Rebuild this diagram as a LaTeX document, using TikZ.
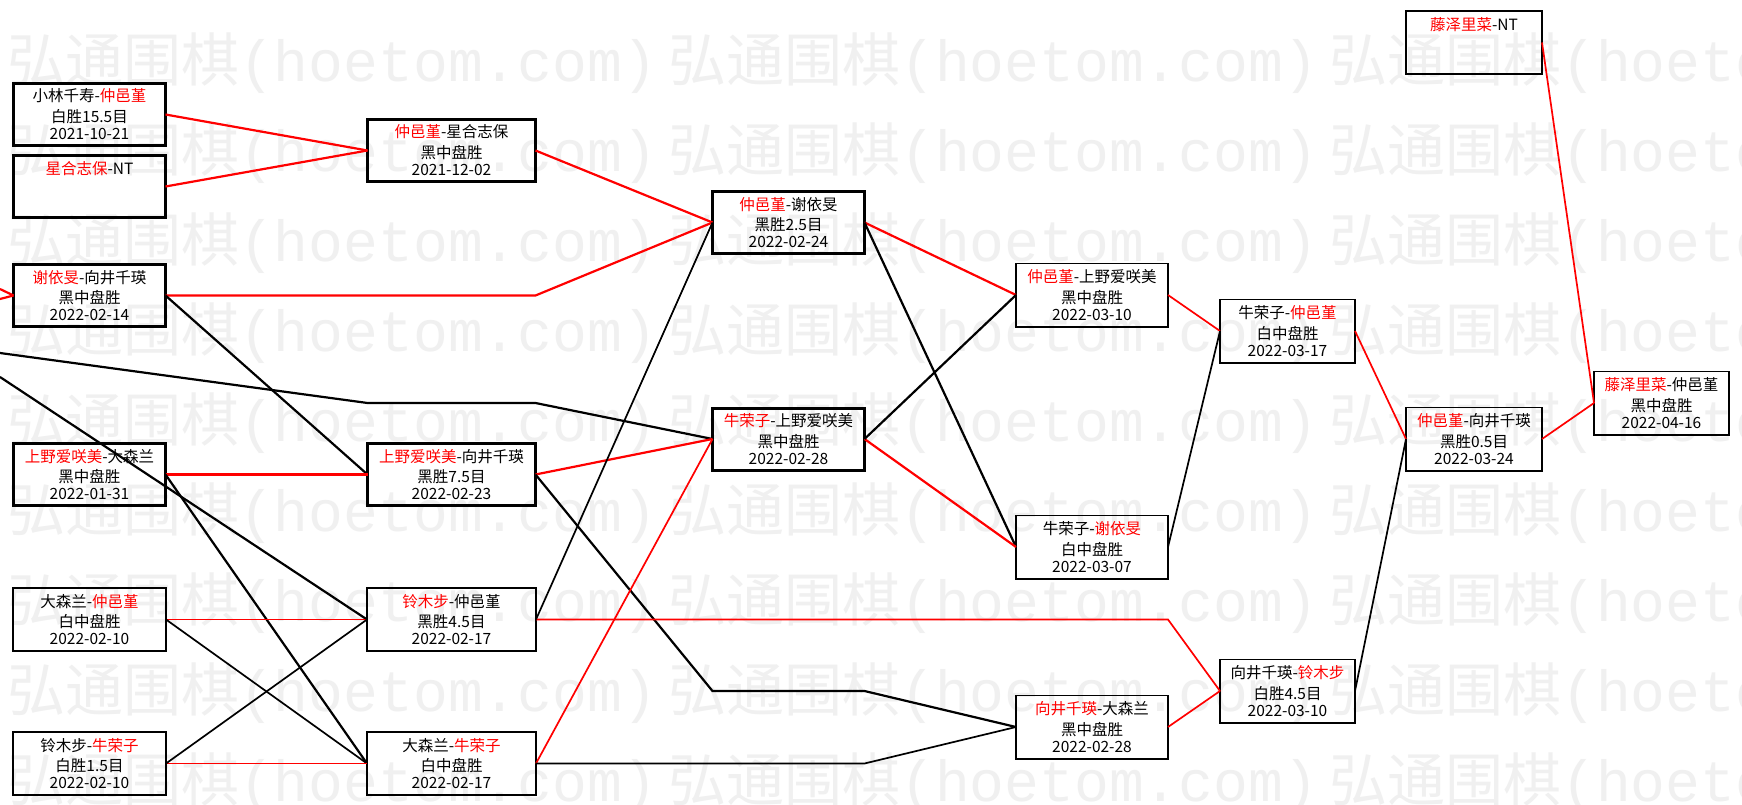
\documentclass[tikz,border=0pt]{standalone}
\usepackage{fontspec}
\setmainfont{Noto Sans CJK SC}
\newfontfamily\wmlatin{Liberation Mono}
\newcommand{\wn}[1]{\textcolor{red}{#1}}
\begin{document}
\begin{tikzpicture}[x=1pt,y=-1pt,
  game/.style={draw,inner sep=0pt,outer sep=0pt,align=center,
    font=\fontsize{15.5}{17}\selectfont},
  hot/.style={game,line width=3pt,text height=56pt,text depth=6pt},
  cool/.style={game,line width=1.8pt,text height=57pt,text depth=6.2pt},
  redfat/.style={red,line width=2.2pt},
  blkfat/.style={black,line width=2.2pt},
  redlean/.style={red,line width=1.7pt},
  blklean/.style={black,line width=1.7pt},
  wmark/.style={anchor=west,inner sep=0pt,text=black!6,
    font=\fontsize{58}{58}\selectfont}]
\useasboundingbox (0,0) rectangle (1742,805);
\clip (0,0) rectangle (1742,805);
\fill[white] (0,0) rectangle (1742,805);
% watermark
\foreach \r in {0,...,8}{
  \foreach \c in {0,1,2}{
    \node[wmark] (wm\r\c) at ({7+661*\c},{63+90*\r}) {弘通围棋{\wmlatin(hoetom.com)}};
  }
}

% column 1
\node[hot,minimum width=152pt] (b1) at (89.5,114.5) {小林千寿-\wn{仲邑堇}\\[3.5pt]白胜15.5目\\2021-10-21};
\node[hot,minimum width=152pt] (b2) at (89.5,186.5) {\wn{星合志保}-NT\\[3.5pt]\mbox{}\\\mbox{}};
\node[hot,minimum width=152pt] (b3) at (89.5,295.5) {\wn{谢依旻}-向井千瑛\\[3.5pt]黑中盘胜\\2022-02-14};
\node[hot,minimum width=152pt] (b4) at (89.5,474.5) {\wn{上野爱咲美}-大森兰\\[3.5pt]黑中盘胜\\2022-01-31};
\node[cool,minimum width=153pt] (b5) at (89.5,619.5) {大森兰-\wn{仲邑堇}\\[3.5pt]白中盘胜\\2022-02-10};
\node[cool,minimum width=153pt] (b6) at (89.5,763.5) {铃木步-\wn{牛荣子}\\[3.5pt]白胜1.5目\\2022-02-10};

% column 2
\node[hot,minimum width=168pt] (c1) at (451.5,150.5) {\wn{仲邑堇}-星合志保\\[3.5pt]黑中盘胜\\2021-12-02};
\node[hot,minimum width=168pt] (c2) at (451.5,474.5) {\wn{上野爱咲美}-向井千瑛\\[3.5pt]黑胜7.5目\\2022-02-23};
\node[cool,minimum width=169pt] (c3) at (451.5,619.5) {\wn{铃木步}-仲邑堇\\[3.5pt]黑胜4.5目\\2022-02-17};
\node[cool,minimum width=169pt] (c4) at (451.5,763.5) {大森兰-\wn{牛荣子}\\[3.5pt]白中盘胜\\2022-02-17};

% column 3
\node[hot,minimum width=152pt] (d1) at (788.5,222.5) {\wn{仲邑堇}-谢依旻\\[3.5pt]黑胜2.5目\\2022-02-24};
\node[hot,minimum width=152pt] (d2) at (788.5,439) {\wn{牛荣子}-上野爱咲美\\[3.5pt]黑中盘胜\\2022-02-28};

% column 4
\node[cool,minimum width=152pt] (e1) at (1092,295) {\wn{仲邑堇}-上野爱咲美\\[3.5pt]黑中盘胜\\2022-03-10};
\node[cool,minimum width=152pt] (e2) at (1092,547) {牛荣子-\wn{谢依旻}\\[3.5pt]白中盘胜\\2022-03-07};
\node[cool,minimum width=152pt] (e3) at (1092,727) {\wn{向井千瑛}-大森兰\\[3.5pt]黑中盘胜\\2022-02-28};

% column 5
\node[cool,minimum width=135pt] (f1) at (1287.5,331) {牛荣子-\wn{仲邑堇}\\[3.5pt]白中盘胜\\2022-03-17};
\node[cool,minimum width=135pt] (f2) at (1287.5,691) {向井千瑛-\wn{铃木步}\\[3.5pt]白胜4.5目\\2022-03-10};

% column 6
\node[cool,minimum width=136pt] (g0) at (1474,42.5) {\wn{藤泽里菜}-NT\\[3.5pt]\mbox{}\\\mbox{}};
\node[cool,minimum width=136pt] (g1) at (1474,439) {\wn{仲邑堇}-向井千瑛\\[3.5pt]黑胜0.5目\\2022-03-24};

% column 7
\node[cool,minimum width=135pt] (h1) at (1661.5,403) {\wn{藤泽里菜}-仲邑堇\\[3.5pt]黑中盘胜\\2022-04-16};

% lines coming in from the left edge
\coordinate (in1) at (0,289);
\coordinate (in2) at (0,299);
\coordinate (in3) at (0,353);
\coordinate (in4) at (0,377);
\draw[redfat] (in1) -- (b3.west);
\draw[redfat] (in2) -- (b3.west);
\draw[blkfat] (in3) -- (c2.west |- h1.west) -- (c2.east |- h1.west) -- (d2.west);
\draw[blkfat] (in4) -- (c3.west);

% column 1 -> 2
\draw[redfat] (b1.east) -- (c1.west);
\draw[redfat] (b2.east) -- (c1.west);
\draw[redfat] (b3.east) -- (c2.east |- b3.east) -- (d1.west);
\draw[blkfat] (b3.east) -- (c2.west);
\draw[redfat] (b4.east) -- (c2.west);
\draw[blkfat] (b4.east) -- (c4.west);
\draw[redlean] (b5.east) -- (c3.west);
\draw[blklean] (b5.east) -- (c4.west);
\draw[redlean] (b6.east) -- (c4.west);
\draw[blklean] (b6.east) -- (c3.west);

% column 2 -> 3
\draw[redfat] (c1.east) -- (d1.west);
\draw[redfat] (c2.east) -- (d2.west);
\draw[blkfat] (c2.east) -- (d2.west |- f2.west) -- (d2.east |- f2.west) -- (e3.west);
\draw[redlean] (c3.east) -- (e3.east |- c3.east) -- (f2.west);
\draw[blklean] (c3.east) -- (d1.west);
\draw[redlean] (c4.east) -- (d2.west);
\draw[blklean] (c4.east) -- (d2.east |- c4.east) -- (e3.west);

% column 3 -> 4
\draw[redfat] (d1.east) -- (e1.west);
\draw[blkfat] (d1.east) -- (e2.west);
\draw[redfat] (d2.east) -- (e2.west);
\draw[blkfat] (d2.east) -- (e1.west);

% column 4 -> 7
\draw[redlean] (e1.east) -- (f1.west);
\draw[blklean] (e2.east) -- (f1.west);
\draw[redlean] (e3.east) -- (f2.west);
\draw[redlean] (f1.east) -- (g1.west);
\draw[blklean] (f2.east) -- (g1.west);
\draw[redlean] (g1.east) -- (h1.west);
\draw[redlean] (g0.east) -- (h1.west);
\end{tikzpicture}
\end{document}
